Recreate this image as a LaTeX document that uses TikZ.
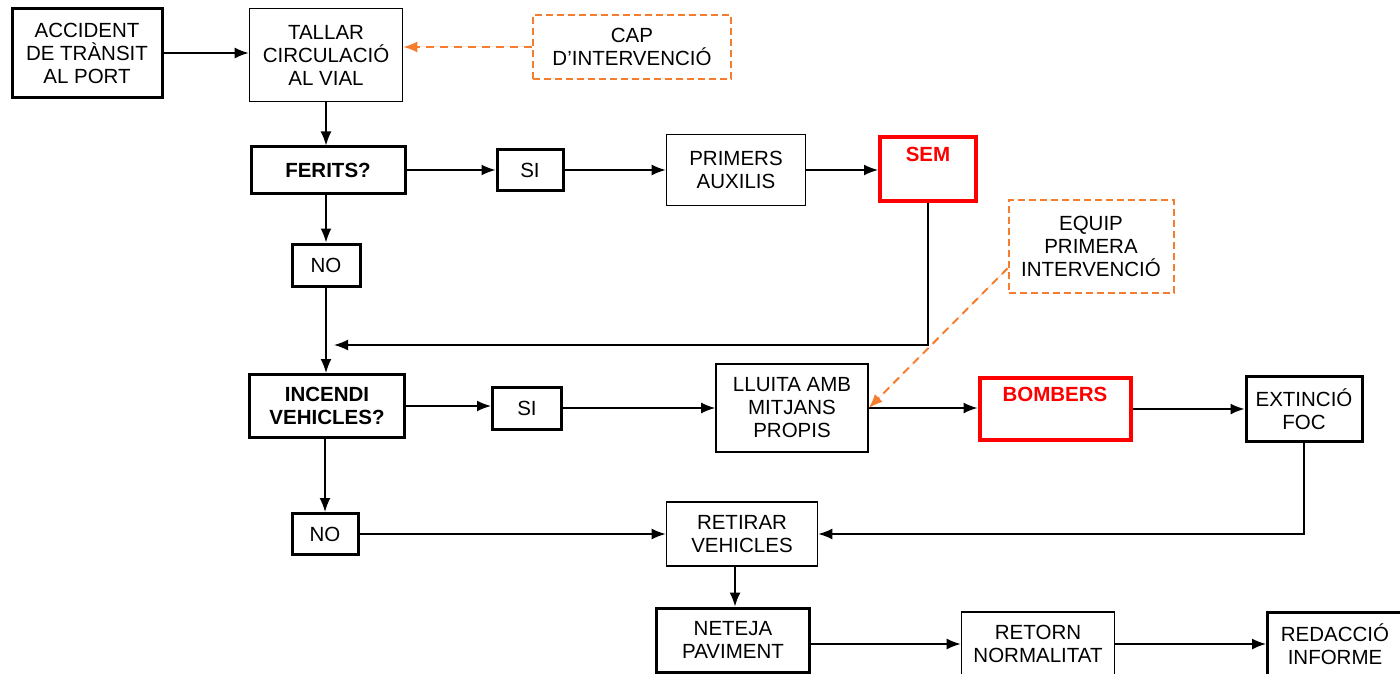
\documentclass[tikz,border=0pt]{standalone}
\usepackage{fontspec}
\setmainfont{Liberation Sans}
\usetikzlibrary{arrows.meta}
\definecolor{pred}{RGB}{255,0,0}
\definecolor{porange}{RGB}{245,125,45}

\begin{document}
\begin{tikzpicture}[x=1pt,y=-1pt,
  font=\fontsize{20.5}{23}\selectfont,
  box/.style={draw, line width=1.6pt, align=center, inner sep=0pt},
  boldbox/.style={box, line width=3pt},
  redbox/.style={box, draw=pred, line width=4pt, text=pred, font=\fontsize{20.5}{23}\selectfont\bfseries},
  helpbox/.style={box, draw=porange, line width=2pt, dash pattern=on 7pt off 4pt},
  flow/.style={-{Latex[length=14pt,width=11pt]}, line width=1.6pt},
  helpflow/.style={-{Latex[length=14pt,width=11pt]}, draw=porange, fill=porange, line width=2pt, dash pattern=on 8pt off 6pt}]
\useasboundingbox (0,0) rectangle (1400,674);

% first row
\node[boldbox, minimum width=150pt, minimum height=89pt] (accident) at (87,53) {ACCIDENT\\DE TRÀNSIT\\AL PORT};
\node[box, minimum width=153pt, minimum height=93pt] (tallar) at (326,55) {TALLAR\\CIRCULACIÓ\\AL VIAL};
\node[helpbox, minimum width=198pt, minimum height=64pt] (cap) at (632,47) {CAP\\D’INTERVENCIÓ};

% ferits
\node[boldbox, minimum width=154pt, minimum height=46pt, font=\fontsize{20.5}{23}\selectfont\bfseries] (ferits) at (328,170) {FERITS?};
\node[boldbox, minimum width=66pt, minimum height=40pt] (si1) at (530,170) {SI};
\node[box, minimum width=139pt, minimum height=71pt] (primers) at (736,170) {PRIMERS\\AUXILIS};
\node[redbox, minimum width=96pt, minimum height=63pt] (sem) at (928,169) {SEM\\\strut};
\node[helpbox, minimum width=165pt, minimum height=93pt] (equip) at (1091,246) {EQUIP\\PRIMERA\\INTERVENCIÓ};
\node[boldbox, minimum width=68pt, minimum height=42pt] (no1) at (326,265) {NO};
\coordinate (merge) at (334,345);

% incendi
\node[boldbox, minimum width=155pt, minimum height=63pt, font=\fontsize{20.5}{23}\selectfont\bfseries] (incendi) at (327,406) {INCENDI\\VEHICLES?};
\node[boldbox, minimum width=69pt, minimum height=42pt] (si2) at (527,408) {SI};
\node[box, minimum width=152pt, minimum height=88pt] (lluita) at (792,408) {LLUITA AMB\\MITJANS\\PROPIS};
\node[redbox, minimum width=151pt, minimum height=62pt] (bombers) at (1055,409) {BOMBERS\\\strut};
\node[boldbox, minimum width=116pt, minimum height=65pt] (extincio) at (1304,409) {EXTINCIÓ\\FOC};

% final steps
\node[boldbox, minimum width=66pt, minimum height=41pt] (no2) at (325,534) {NO};
\node[box, minimum width=151pt, minimum height=64pt] (retirar) at (742,534) {RETIRAR\\VEHICLES};
\node[boldbox, minimum width=153pt, minimum height=64pt] (neteja) at (733,640) {NETEJA\\PAVIMENT};
\node[box, minimum width=153pt, minimum height=64pt] (retorn) at (1038,644) {RETORN\\NORMALITAT};
\node[boldbox, minimum width=135pt, minimum height=64pt] (redaccio) at (1335,644) {REDACCIÓ\\INFORME};

% connectors
\draw[flow] (accident.east) -- (accident.east -| tallar.west);
\draw[helpflow] (cap.west) -- (cap.west -| tallar.east);
\draw[flow] (tallar.south) -- (tallar.south |- ferits.north);
\draw[flow] (ferits.east) -- (si1.west);
\draw[flow] (si1.east) -- (primers.west);
\draw[flow] (primers.east) -- (primers.east -| sem.west);
\draw[flow] (ferits.south -| no1.north) -- (no1.north);
\draw[flow] (no1.south) -- (no1.south |- incendi.north);
\draw[flow] (sem.south) |- (merge);
\draw[flow] (incendi.east) -- (incendi.east -| si2.west);
\draw[flow] (si2.east) -- (lluita.west);
\draw[flow] (lluita.east) -- (lluita.east -| bombers.west);
\draw[flow] (bombers.east) -- (extincio.west);
\draw[helpflow] (equip.195) -- (lluita.east);
\draw[flow] (incendi.south -| no2.north) -- (no2.north);
\draw[flow] (no2.east) -- (no2.east -| retirar.west);
\draw[flow] (extincio.south) |- (retirar.east);
\draw[flow] ([xshift=2pt]retirar.south -| neteja.north) -- ([xshift=2pt]neteja.north);
\draw[flow] (neteja.east |- retorn.west) -- (retorn.west);
\draw[flow] (retorn.east) -- (redaccio.west);

\end{tikzpicture}
\end{document}
